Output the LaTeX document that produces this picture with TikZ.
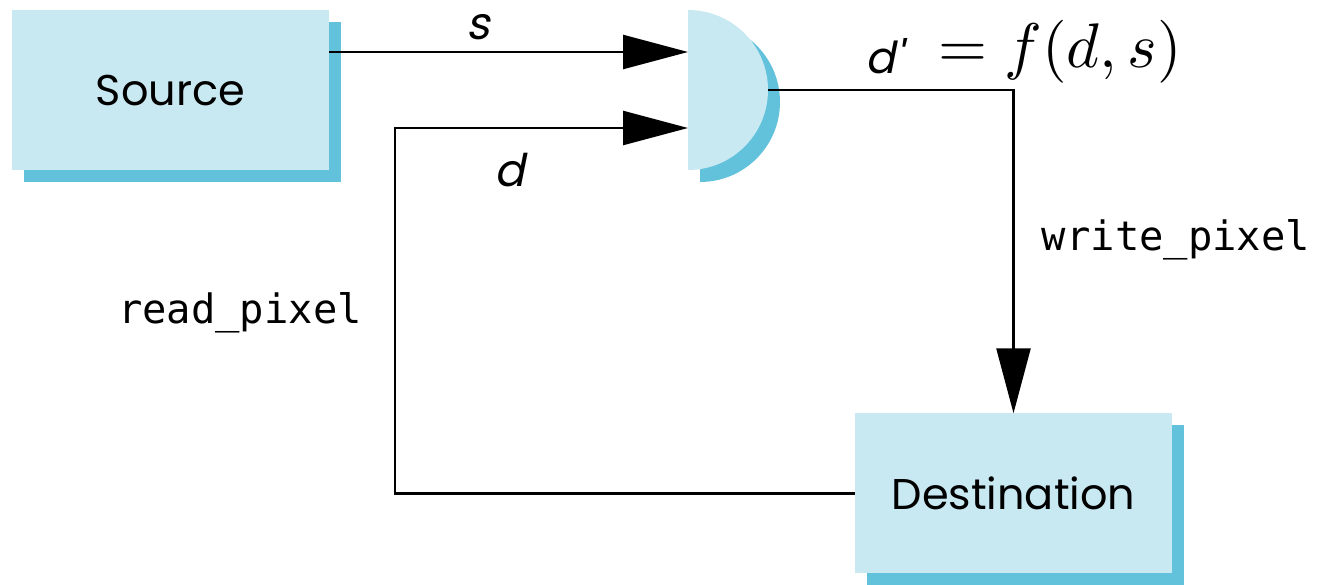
\documentclass[tikz,border=0pt]{standalone}
\usepackage{graphicx}
\usepackage{fontspec}
\setmainfont{Poppins}
\newfontfamily\slantsans[FakeSlant=0.2]{Poppins}
\newfontfamily\monofont{DejaVu Sans Mono}
\usetikzlibrary{arrows.meta,shadows}
\definecolor{boxfill}{RGB}{201,233,242}
\definecolor{boxshade}{RGB}{98,194,220}
\begin{document}
\begin{tikzpicture}[x=1pt,y=1pt,
  block/.style={rectangle, fill=boxfill, inner sep=0pt,
    minimum width=317pt, minimum height=160pt,
    font=\fontsize{43}{43}\selectfont,
    drop shadow={shadow xshift=12pt, shadow yshift=-12pt, fill=boxshade, opacity=1}},
  wire/.style={line width=2.5pt, black},
  flow/.style={wire, -{Triangle[length=65pt,width=34pt]}},
  varlabel/.style={font=\slantsans\fontsize{45}{45}\selectfont},
  calllabel/.style={font=\monofont\fontsize{40.5}{40.5}\selectfont}]
\useasboundingbox (0,0) rectangle (1318,584);

% blocks
\node[block] (src) at (170.5,493.5) {Source};
\node[block] (dst) at (1013.5,90.5) {Destination};

% combining unit: half disc with its shade
\fill[boxshade] (700,562) arc[start angle=90, end angle=-90, radius=80] -- cycle;
\fill[boxfill] (688,574) arc[start angle=90, end angle=-90, radius=80] -- cycle;
\coordinate (gin1) at (688,532);
\coordinate (gin2) at (688,456);
\coordinate (gout) at (768,494);
\coordinate (fb) at (395,300);

% connectors
\draw[flow] (src.east |- gin1) -- (gin1);
\draw[flow] (dst.west) -| (fb) |- (gin2);
\draw[flow] (gout) -| (dst.north);

% labels
\node[varlabel] (ls) at (478,557) {s};
\node[varlabel] (ld) at (510,414) {d};
\node[font=\slantsans\fontsize{44}{44}\selectfont] (ldp) at (884,528) {d'};
\node[inner sep=0pt] (lf) at (1060,532) {\scalebox{6.3}{$= f(d,s)$}};
\node[calllabel] (lw) at (1176,344) {write\_pixel};
\node[calllabel] (lr) at (240,271) {read\_pixel};
\end{tikzpicture}
\end{document}
